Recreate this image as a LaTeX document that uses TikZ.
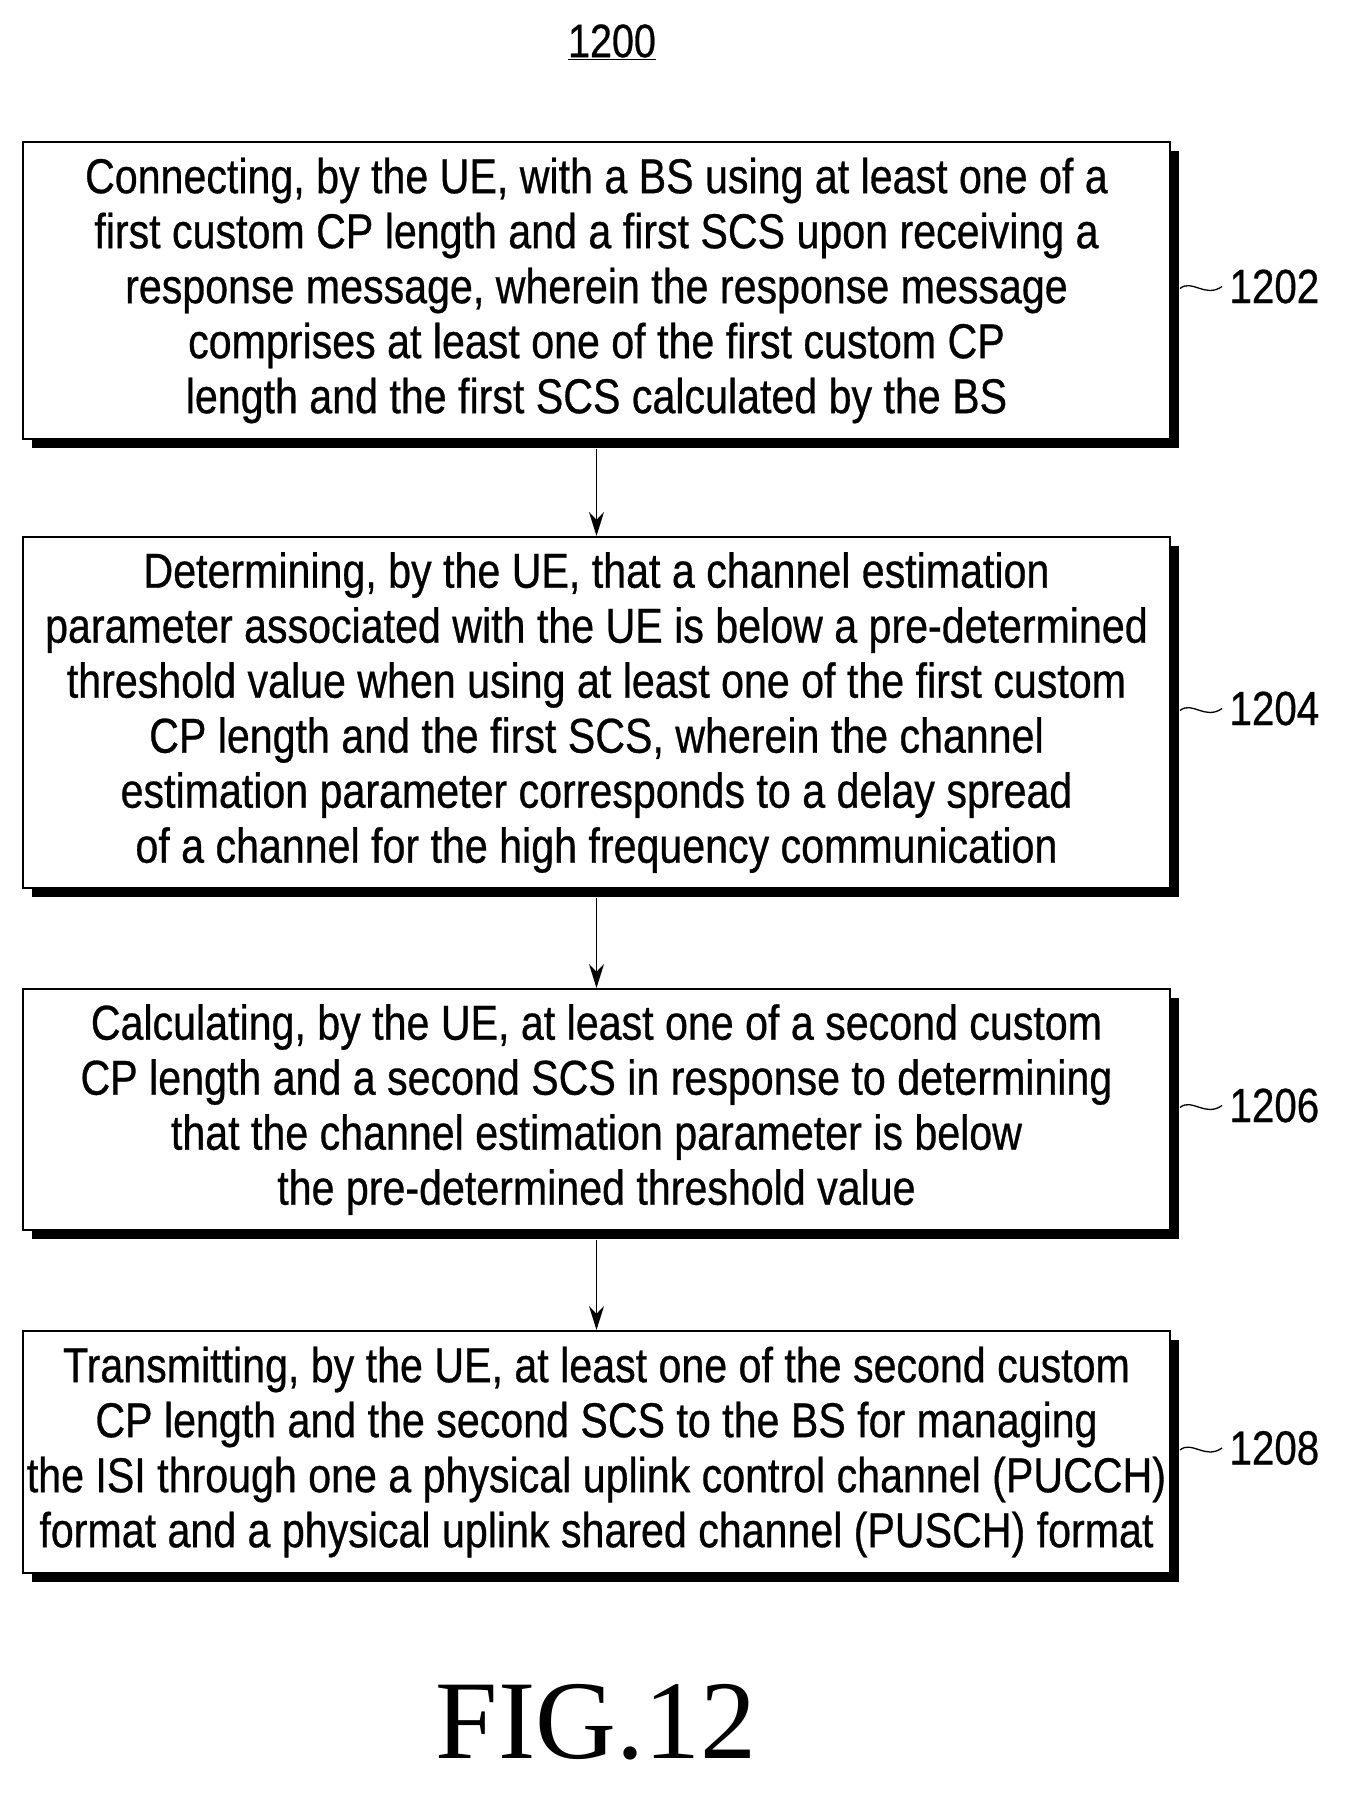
\documentclass[tikz,border=0pt]{standalone}
\usepackage{fontspec}
\usetikzlibrary{arrows.meta}
\setmainfont[FakeStretch=0.84,FakeBold=0.6]{Liberation Sans}
\newfontfamily\figfont{Liberation Serif}
\begin{document}
\begin{tikzpicture}[x=1pt,y=-1pt,
  stepbox/.style={draw,line width=2pt,fill=white,minimum width=1147pt,align=center,
    font=\fontsize{49}{55}\selectfont,inner sep=0pt},
  lbl/.style={font=\fontsize{48}{50}\selectfont,anchor=west},
  arr/.style={-{Stealth[length=24pt,width=15pt]},line width=1.5pt}]
\useasboundingbox (0,0) rectangle (1349,1797);
\node[font=\fontsize{47}{50}\selectfont] (t) at (612,42) {\underline{1200}};
\newcommand\mybox[5]{%
  \fill (23+9,#1+9) rectangle (1170+9,#2+9);
  \node[stepbox,minimum height=#2-#1] (#3) at (596.5,{(#1+#2)/2}) {#4};
  \node[lbl] (l#3) at (1226,{(#1+#2)/2-4}) {#5};
  \draw[line width=1.3pt] (1180,{(#1+#2)/2-2}) .. controls (1192,{(#1+#2)/2-12}) and (1205,{(#1+#2)/2+8}) .. (1222,{(#1+#2)/2-4});
}
\mybox{142}{439}{b1}{Connecting, by the UE, with a BS using at least one of a\\first custom CP length and a first SCS upon receiving a\\response message, wherein the response message\\comprises at least one of the first custom CP\\length and the first SCS calculated by the BS}{1202}
\mybox{537}{888}{b2}{Determining, by the UE, that a channel estimation\\parameter associated with the UE is below a pre-determined\\threshold value when using at least one of the first custom\\CP length and the first SCS, wherein the channel\\estimation parameter corresponds to a delay spread\\of a channel for the high frequency communication}{1204}
\mybox{989}{1230}{b3}{Calculating, by the UE, at least one of a second custom\\CP length and a second SCS in response to determining\\that the channel estimation parameter is below\\the pre-determined threshold value}{1206}
\mybox{1331}{1573}{b4}{Transmitting, by the UE, at least one of the second custom\\CP length and the second SCS to the BS for managing\\the ISI through one a physical uplink control channel (PUCCH)\\format and a physical uplink shared channel (PUSCH) format}{1208}
\draw[arr] (b1.south) ++(0,9) -- (b2.north);
\draw[arr] (b2.south) ++(0,9) -- (b3.north);
\draw[arr] (b3.south) ++(0,9) -- (b4.north);
\node[font=\figfont\fontsize{112}{112}\selectfont] (fig) at (596,1722) {FIG.12};
\end{tikzpicture}
\end{document}
